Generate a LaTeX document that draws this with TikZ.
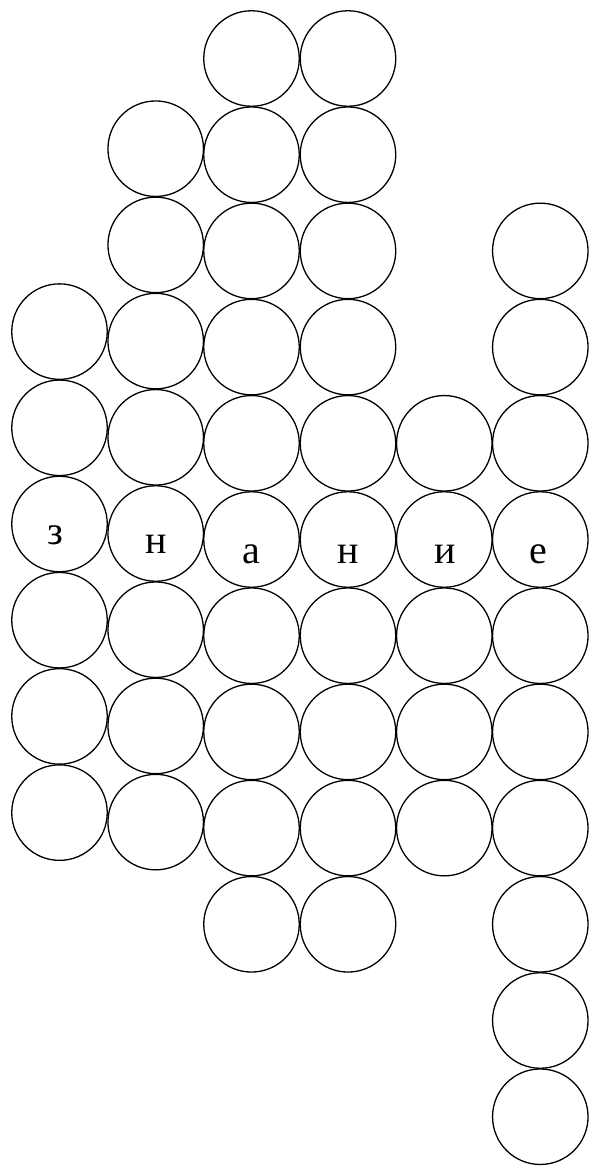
\documentclass[tikz,border=0pt]{standalone}
\usepackage{fontspec}
\newfontfamily\letterfont{Liberation Serif}
\begin{document}
\begin{tikzpicture}[x=1pt,y=-1pt,
  ring/.style={draw=black,line width=1.3pt,circle,minimum size=95.5pt,inner sep=0pt},
  letter/.style={font=\letterfont\fontsize{40}{40}\selectfont,anchor=base,inner sep=0pt}]
\useasboundingbox (0,0) rectangle (589,1167);
% column 0 (rows 3-8)
\foreach \r in {3,...,8} \node[ring] (c0-\r) at (59.5, 43+96.2*\r) {};
% column 1 (rows 1-8)
\foreach \r in {1,...,8} \node[ring] (c1-\r) at (155.7, 52.5+96.2*\r) {};
% column 2 (rows 0-9)
\foreach \r in {0,...,9} \node[ring] (c2-\r) at (251.5, 58.5+96.2*\r) {};
% column 3 (rows 0-9)
\foreach \r in {0,...,9} \node[ring] (c3-\r) at (348, 58.5+96.2*\r) {};
% column 4 (rows 4-8)
\foreach \r in {4,...,8} \node[ring] (c4-\r) at (444.3, 58.5+96.2*\r) {};
% column 5 (rows 2-11)
\foreach \r in {2,...,11} \node[ring] (c5-\r) at (540.3, 58.5+96.2*\r) {};
% letters
\node[letter] (l1) at (55,544) {з};
\node[letter] (l2) at (156,553) {н};
\node[letter] (l3) at (251,563) {а};
\node[letter] (l4) at (348,563) {н};
\node[letter] (l5) at (445,563) {и};
\node[letter] (l6) at (538,563) {е};
\end{tikzpicture}
\end{document}
